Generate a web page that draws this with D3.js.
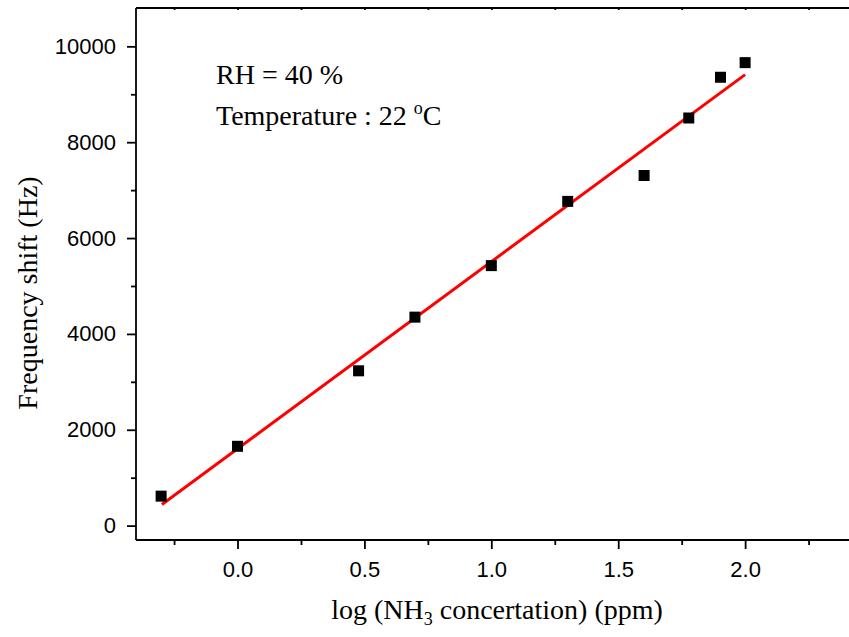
<!DOCTYPE html>
<html><head><meta charset="utf-8">
<script src="https://cdn.jsdelivr.net/npm/d3@7"></script>
<style>body{margin:0;background:#fff}svg{display:block}</style>
</head><body>
<script>
const logConc = [-0.301, 0, 0.477, 0.699, 1.0, 1.301, 1.602, 1.778, 1.903, 2.0];
const freqShift = [615, 1655, 3230, 4350, 5425, 6765, 7305, 8505, 9355, 9660];
const fitX = [-0.298, 2.0];
const fitY = [440, 9410];
const xTicks = [0, 0.5, 1.0, 1.5, 2.0];
const xMinorTicks = [-0.25, 0.25, 0.75, 1.25, 1.75, 2.25];
const yTicks = [0, 2000, 4000, 6000, 8000, 10000];
const yMinorTicks = [1000, 3000, 5000, 7000, 9000];
const xTitle = ["log (NH", "3", " concertation) (ppm)"];
const yTitle = "Frequency shift (Hz)";
const note1 = "RH = 40 %";
const note2 = ["Temperature : 22 ", "o", "C"];

const W = 849, H = 637;
const L = 136, T = 8, B = 540;
const x = d3.scaleLinear().domain([-0.4, 2.45]).range([L, L + 2.85 * 253.8]);
const y = d3.scaleLinear().domain([-300, 10800]).range([B, T]);

const svg = d3.select("body").append("svg").attr("width", W).attr("height", H);
const sans = "'Liberation Sans', Arial, sans-serif";
const serif = "'Liberation Serif', 'Times New Roman', serif";

svg.append("line").attr("x1", L).attr("x2", W + 5).attr("y1", B).attr("y2", B).attr("stroke", "#000").attr("stroke-width", 1.8);
svg.append("line").attr("x1", L).attr("x2", W + 5).attr("y1", T).attr("y2", T).attr("stroke", "#000").attr("stroke-width", 1.8);
svg.append("line").attr("x1", L).attr("x2", L).attr("y1", T).attr("y2", B).attr("stroke", "#000").attr("stroke-width", 1.8);

function styleAxis(g) {
  g.select(".domain").remove();
  g.selectAll(".tick line").attr("stroke", "#000").attr("stroke-width", 1.8);
  g.selectAll(".tick text").attr("font-family", sans).attr("font-size", 22).attr("fill", "#000");
}
svg.append("g").attr("transform", `translate(0,${B})`)
  .call(d3.axisBottom(x).tickValues(xTicks).tickFormat(d3.format(".1f")).tickSize(9).tickPadding(12))
  .call(styleAxis);
svg.append("g").attr("transform", `translate(0,${B})`)
  .call(d3.axisBottom(x).tickValues(xMinorTicks).tickFormat("").tickSize(5))
  .call(styleAxis);
svg.append("g").attr("transform", `translate(0,${T})`)
  .call(d3.axisBottom(x).tickValues(xTicks.concat(xMinorTicks)).tickFormat("").tickSize(2))
  .call(styleAxis);
svg.append("g").attr("transform", `translate(${L},0)`)
  .call(d3.axisLeft(y).tickValues(yTicks).tickFormat(d3.format("d")).tickSize(9).tickPadding(11))
  .call(styleAxis);
svg.append("g").attr("transform", `translate(${L},0)`)
  .call(d3.axisLeft(y).tickValues(yMinorTicks).tickFormat("").tickSize(5))
  .call(styleAxis);

svg.append("line")
  .attr("x1", x(fitX[0])).attr("y1", y(fitY[0]))
  .attr("x2", x(fitX[1])).attr("y2", y(fitY[1]))
  .attr("stroke", "#ff0000").attr("stroke-width", 3);

const s = 11;
svg.append("g").selectAll("rect").data(logConc.map((d, i) => [d, freqShift[i]])).join("rect")
  .attr("x", d => x(d[0]) - s / 2).attr("y", d => y(d[1]) - s / 2)
  .attr("width", s).attr("height", s).attr("fill", "#000");

svg.append("text").attr("x", 216).attr("y", 84).attr("font-family", serif).attr("font-size", 28).text(note1);
const t2 = svg.append("text").attr("x", 216).attr("y", 125).attr("font-family", serif).attr("font-size", 28);
t2.append("tspan").text(note2[0]);
t2.append("tspan").attr("font-size", 18).attr("dy", -11).text(note2[1]);
t2.append("tspan").attr("dy", 11).text(note2[2]);

const xt = svg.append("text").attr("x", 497).attr("y", 619).attr("text-anchor", "middle")
  .attr("font-family", serif).attr("font-size", 28);
xt.append("tspan").text(xTitle[0]);
xt.append("tspan").attr("font-size", 18).attr("dy", 6).text(xTitle[1]);
xt.append("tspan").attr("dy", -6).text(xTitle[2]);

svg.append("text").attr("transform", "translate(37,293) rotate(-90)").attr("text-anchor", "middle")
  .attr("font-family", serif).attr("font-size", 28).text(yTitle);
</script>
</body></html>
